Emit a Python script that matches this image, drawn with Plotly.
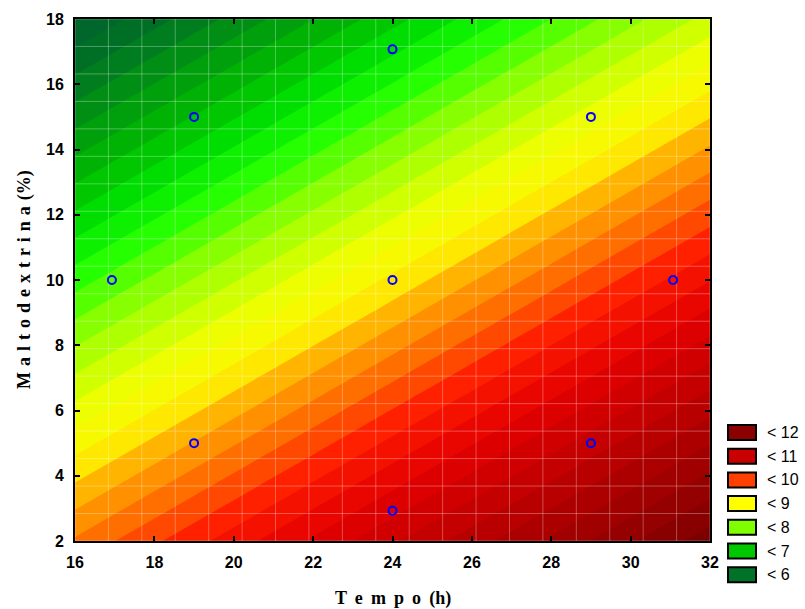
import numpy as np
import plotly.graph_objects as go

# ---- data ----
tempo = [16, 20, 24, 28, 32]          # x grid (h)
malto = [2, 6, 10, 14, 18]            # y grid (%)
resp = [                              # response, rows follow malto
    [9.43, 10.10, 10.77, 11.44, 12.11],
    [8.47, 9.14, 9.81, 10.48, 11.15],
    [7.51, 8.18, 8.85, 9.52, 10.19],
    [6.55, 7.22, 7.89, 8.56, 9.23],
    [5.59, 6.26, 6.93, 7.60, 8.27],
]
pts_x = [16.93, 19, 19, 24, 24, 24, 29, 29, 31.07]
pts_y = [10, 5, 15, 2.93, 10, 17.07, 5, 15, 10]

leg_labels = ["< 12", "< 11", "< 10", "< 9", "< 8", "< 7", "< 6"]
leg_colors = ["#8c0000", "#c80000", "#ff4000", "#ffff00", "#80ff00", "#00c800", "#007328"]

cs_z = [5.5, 6.0, 6.8, 7.2, 7.5, 8.0, 8.5, 8.9, 9.2, 9.6, 10.0, 10.5, 11.0, 12.2]
cs_col = ["rgb(0,95,50)", "rgb(0,115,35)", "rgb(0,185,0)", "rgb(0,230,0)",
          "rgb(30,255,0)", "rgb(150,255,0)", "rgb(235,255,0)", "rgb(255,245,0)",
          "rgb(255,170,0)", "rgb(255,105,0)", "rgb(255,25,0)", "rgb(225,0,0)",
          "rgb(195,0,0)", "rgb(125,0,0)"]
zmin, zmax = cs_z[0], cs_z[-1]
colorscale = [[(v - zmin) / (zmax - zmin), c] for v, c in zip(cs_z, cs_col)]

fig = go.Figure()
fig.add_trace(go.Contour(
    x=tempo, y=malto, z=resp,
    colorscale=colorscale, zmin=zmin, zmax=zmax,
    autocontour=False,
    contours=dict(start=5.4, end=12.4, size=0.2, coloring="fill"),
    line=dict(width=0), showscale=False, hoverinfo="skip",
))

# faint mesh over the surface
gx = np.linspace(16, 32, 20)
gy = np.linspace(2, 18, 20)
mx, my = [], []
for v in gx:
    mx += [v, v, None]; my += [2, 18, None]
for v in gy:
    mx += [16, 32, None]; my += [v, v, None]
fig.add_trace(go.Scatter(x=mx, y=my, mode="lines",
                         line=dict(color="rgba(255,255,255,0.3)", width=1),
                         hoverinfo="skip", showlegend=False))

fig.add_trace(go.Scatter(x=pts_x, y=pts_y, mode="markers",
                         marker=dict(symbol="circle-open", size=8, color="#0000ff",
                                     line=dict(width=2, color="#0000ff")),
                         showlegend=False))

# geometry for legend (pixel -> paper)
L, R, T, B = 75, 710, 19, 541
def px_x(p): return (p - L) / (R - L)
def px_y(p): return (B - p) / (B - T)

shapes, annots = [], []
for i, (lab, col) in enumerate(zip(leg_labels, leg_colors)):
    top = 425 + i * 23.7
    shapes.append(dict(type="rect", xref="paper", yref="paper",
                       x0=px_x(728), x1=px_x(756), y0=px_y(top + 15), y1=px_y(top),
                       fillcolor=col, line=dict(color="black", width=2)))
    annots.append(dict(xref="paper", yref="paper", x=px_x(765), y=px_y(top + 7.5),
                       text=lab, showarrow=False, xanchor="left", yanchor="middle",
                       font=dict(family="Liberation Sans, Arial", size=16, color="black")))

xsep = " \u2009"
ysep = " \u200a"
annots.append(dict(xref="paper", yref="paper", x=0.5, y=0, yshift=-45,
                   text=xsep.join(list("Tempo")) + xsep + "(h)", showarrow=False,
                   xanchor="center", yanchor="top",
                   font=dict(family="Liberation Serif, Times New Roman", size=18,
                             color="black", weight="bold")))
annots.append(dict(xref="paper", yref="paper", x=px_x(24), y=0.5,
                   text=ysep.join(list("Maltodextrina")) + ysep + "(%)", showarrow=False,
                   textangle=-90, xanchor="center", yanchor="middle",
                   font=dict(family="Liberation Serif, Times New Roman", size=18,
                             color="black", weight="bold")))

axis_common = dict(ticks="inside", ticklen=5, tickwidth=2, tickcolor="black",
                   showline=True, linewidth=2, linecolor="black", mirror="ticks",
                   showgrid=False, zeroline=False, dtick=2,
                   tickfont=dict(family="Liberation Sans, Arial", size=16,
                                 color="black", weight="bold"))
fig.update_xaxes(range=[16, 32], tick0=16, ticklabelstandoff=6, **axis_common)
fig.update_yaxes(range=[2, 18], tick0=2, ticklabelstandoff=6, **axis_common)

fig.update_layout(width=805, height=609, margin=dict(l=L, r=805 - R, t=T, b=609 - B),
                  paper_bgcolor="white", plot_bgcolor="white", showlegend=False,
                  shapes=shapes, annotations=annots)

fig.write_html("out.html")
